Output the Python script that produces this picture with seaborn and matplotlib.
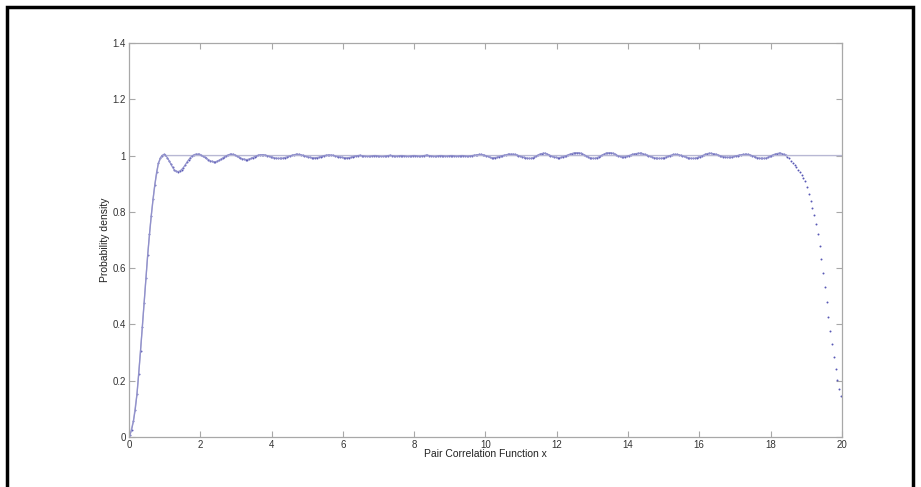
import numpy as np
import pandas as pd
import matplotlib
matplotlib.use("Agg")
import matplotlib.pyplot as plt
import matplotlib.patches as patches
import seaborn as sns

# sample positions (spacing 0.05) and g(x)
x = np.round(0.025 + 0.05 * np.arange(400), 3)
g = [
    # 0 - 1
    0.006, 0.025, 0.056, 0.095, 0.152, 0.225, 0.305, 0.390, 0.475, 0.565,
    0.645, 0.720, 0.785, 0.845, 0.895, 0.940, 0.972, 0.990, 1.000, 1.004,
    # 1 - 2
    1.001, 0.993, 0.982, 0.970, 0.958, 0.949, 0.944, 0.943, 0.945, 0.950,
    0.957, 0.966, 0.976, 0.985, 0.993, 0.999, 1.003, 1.005, 1.005, 1.004,
    # 2 - 3
    1.001, 0.998, 0.994, 0.990, 0.986, 0.982, 0.979, 0.978, 0.978, 0.980,
    0.983, 0.987, 0.991, 0.995, 0.999, 1.002, 1.004, 1.005, 1.004, 1.002,
    # 3 - 4
    0.999, 0.995, 0.992, 0.989, 0.987, 0.986, 0.986, 0.988, 0.990, 0.993,
    0.996, 0.999, 1.001, 1.003, 1.003, 1.003, 1.002, 1.000, 0.998, 0.996,
    # 4 - 5
    0.994, 0.992, 0.991, 0.990, 0.990, 0.990, 0.991, 0.993, 0.995, 0.997,
    0.999, 1.001, 1.003, 1.004, 1.004, 1.004, 1.003, 1.001, 0.999, 0.997,
    # 5 - 6
    0.995, 0.994, 0.993, 0.992, 0.992, 0.993, 0.994, 0.996, 0.998, 1.000,
    1.001, 1.002, 1.002, 1.002, 1.001, 0.999, 0.997, 0.996, 0.995, 0.994,
    # 6 - 7
    0.993, 0.992, 0.992, 0.993, 0.994, 0.996, 0.998, 0.999, 1.000, 1.001,
    1.000, 0.999, 0.998, 0.997, 0.997, 0.998, 0.999, 1.000, 1.000, 0.999,
    # 7 - 8
    0.998, 0.997, 0.997, 0.998, 0.999, 1.000, 1.001, 1.000, 0.999, 0.998,
    0.998, 0.999, 1.000, 1.000, 0.999, 0.998, 0.997, 0.998, 0.999, 1.000,
    # 8 - 9
    1.000, 0.999, 0.998, 0.998, 0.999, 1.000, 1.001, 1.001, 1.000, 0.999,
    0.998, 0.997, 0.998, 0.999, 1.000, 1.000, 0.999, 0.998, 0.998, 0.999,
    # 9 - 10
    1.000, 1.000, 0.999, 0.998, 0.998, 0.999, 1.000, 1.000, 0.999, 0.998,
    0.998, 0.999, 1.000, 1.001, 1.002, 1.003, 1.004, 1.004, 1.003, 1.001,
    # 10 - 11
    0.999, 0.997, 0.994, 0.992, 0.992, 0.993, 0.994, 0.996, 0.998, 1.000,
    1.001, 1.003, 1.004, 1.005, 1.005, 1.005, 1.004, 1.002, 1.000, 0.998,
    # 11 - 12
    0.996, 0.994, 0.992, 0.991, 0.990, 0.990, 0.992, 0.995, 0.998, 1.002,
    1.005, 1.007, 1.008, 1.008, 1.006, 1.003, 1.000, 0.997, 0.995, 0.994,
    # 12 - 13
    0.993, 0.993, 0.994, 0.996, 0.998, 1.000, 1.003, 1.005, 1.007, 1.009,
    1.010, 1.010, 1.010, 1.008, 1.006, 1.003, 0.999, 0.996, 0.993, 0.991,
    # 13 - 14
    0.990, 0.990, 0.992, 0.995, 0.998, 1.002, 1.005, 1.008, 1.009, 1.010,
    1.010, 1.008, 1.005, 1.002, 0.999, 0.997, 0.995, 0.995, 0.996, 0.998,
    # 14 - 15
    1.000, 1.002, 1.004, 1.006, 1.007, 1.008, 1.008, 1.008, 1.006, 1.004,
    1.001, 0.999, 0.997, 0.995, 0.993, 0.991, 0.990, 0.990, 0.990, 0.991,
    # 15 - 16
    0.993, 0.995, 0.998, 1.000, 1.002, 1.004, 1.004, 1.004, 1.003, 1.001,
    0.999, 0.997, 0.995, 0.993, 0.991, 0.990, 0.990, 0.990, 0.992, 0.994,
    # 16 - 17
    0.996, 0.999, 1.002, 1.005, 1.007, 1.008, 1.008, 1.007, 1.006, 1.004,
    1.002, 1.000, 0.998, 0.996, 0.995, 0.994, 0.994, 0.994, 0.995, 0.997,
    # 17 - 18
    0.999, 1.000, 1.002, 1.003, 1.004, 1.004, 1.004, 1.004, 1.002, 1.000,
    0.998, 0.995, 0.993, 0.991, 0.990, 0.990, 0.990, 0.991, 0.994, 0.997,
    # 18 - 19
    1.000, 1.003, 1.005, 1.007, 1.008, 1.008, 1.007, 1.004, 1.001, 0.996,
    0.990, 0.982, 0.974, 0.966, 0.958, 0.950, 0.941, 0.932, 0.922, 0.908,
    # 19 - 20
    0.889, 0.865, 0.840, 0.815, 0.790, 0.758, 0.722, 0.680, 0.632, 0.582,
    0.532, 0.480, 0.428, 0.378, 0.330, 0.285, 0.242, 0.204, 0.172, 0.145,
]

# reference curve: rises with the data, then stays at 1
ref_x = [0.0, 0.025, 0.125, 0.225, 0.325, 0.425, 0.525, 0.625, 0.725, 0.825, 0.925, 0.975, 20.0]
ref_y = [0.0, 0.006, 0.056, 0.152, 0.305, 0.475, 0.645, 0.785, 0.895, 0.972, 1.000, 1.000, 1.000]

xticks = [0, 2, 4, 6, 8, 10, 12, 14, 16, 18, 20]
yticks = [0, 0.2, 0.4, 0.6, 0.8, 1.0, 1.2, 1.4]
ytick_labels = ["0", "0.2", "0.4", "0.6", "0.8", "1", "1.2", "1.4"]

df = pd.DataFrame({"x": x, "g": g})
ref = pd.DataFrame({"x": ref_x, "g": ref_y})
band = df[df["x"] <= 18.45]

sns.set_style("white")
plt.rcParams["font.family"] = ["Liberation Sans", "DejaVu Sans"]

fig = plt.figure(figsize=(9.21, 4.87), dpi=100)
ax = fig.add_axes([0.140, 0.1027, 0.774, 0.809])

sns.lineplot(x="x", y="g", data=ref, ax=ax, color="#b8b8d4", linewidth=1.0,
             sort=False, estimator=None)
sns.lineplot(x="x", y="g", data=band, ax=ax, color="#9090cc", linewidth=0.9,
             sort=False, estimator=None)
sns.scatterplot(x="x", y="g", data=df, ax=ax, color="#5858b4", s=2,
                linewidth=0, marker="o")

ax.set_xlim(0, 20)
ax.set_ylim(0, 1.4)
ax.set_xticks(xticks)
ax.set_xticklabels([str(t) for t in xticks])
ax.set_yticks(yticks)
ax.set_yticklabels(ytick_labels)
ax.tick_params(direction="in", length=4, width=0.8, colors="#a8a8a8",
               labelcolor="#333333", labelsize=7, top=True, right=True,
               bottom=True, left=True, pad=2)
for side in ax.spines.values():
    side.set_color("#a8a8a8")
    side.set_linewidth(0.9)
ax.set_xlabel("Pair Correlation Function x", fontsize=7.5, color="#222222", labelpad=-0.5)
ax.set_ylabel("Probability density", fontsize=7.5, color="#222222", labelpad=2)

# black frame around the figure
frame = patches.Rectangle((7 / 921, -0.05), 906 / 921, 1.05 - 7 / 487,
                          transform=fig.transFigure, fill=False,
                          edgecolor="black", linewidth=2.5, clip_on=False)
fig.patches.append(frame)

fig.savefig("out.png", dpi=100)
